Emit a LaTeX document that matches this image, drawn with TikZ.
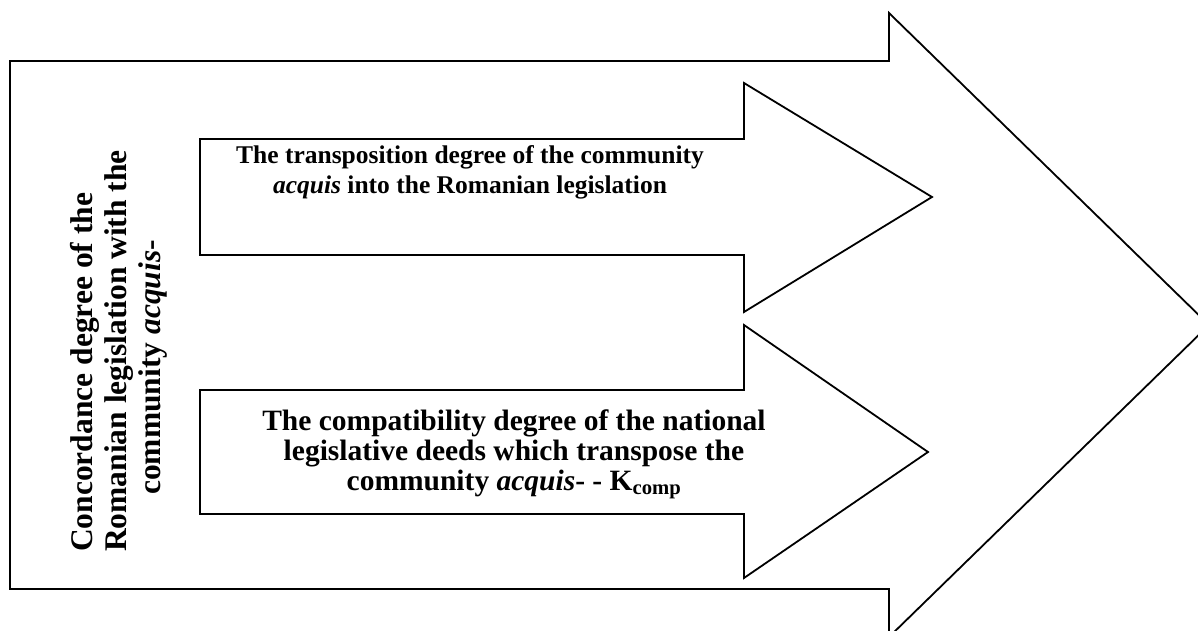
\documentclass[tikz,border=0pt]{standalone}
\usepackage{fontspec}
\setmainfont{Liberation Serif}
\begin{document}
\begin{tikzpicture}[x=1pt,y=-1pt,
  outline/.style={draw=black,line width=1.8pt,line join=miter,fill=white},
  label/.style={align=center,font=\bfseries\fontsize{25.5}{30}\selectfont,inner sep=0pt},
  labelb/.style={align=center,font=\bfseries\fontsize{29.5}{30}\selectfont,inner sep=0pt},
  sidelabel/.style={align=left,font=\bfseries\fontsize{31.5}{34}\selectfont,inner sep=0pt,rotate=90,anchor=north west}]
\useasboundingbox (0,0) rectangle (1198,631);
\clip (0,0) rectangle (1198,631);
% big arrow
\draw[outline] (10,61) -- (889,61) -- (889,13) -- (1209,325) -- (889,637) -- (889,589) -- (10,589) -- cycle;
% upper arrow
\draw[outline] (200,139) -- (744,139) -- (744,83) -- (932,197) -- (744,312) -- (744,255) -- (200,255) -- cycle;
% lower arrow
\draw[outline] (200,390) -- (744,390) -- (744,325) -- (928,452) -- (744,578) -- (744,514) -- (200,514) -- cycle;
\node[label] (trans) at (470,172) {The transposition degree of the community\\\textit{acquis} into the Romanian legislation};
\node[labelb] (comp) at (514,454) {The compatibility degree of the national\\legislative deeds which transpose the\\community \textit{acquis}- - K\textsubscript{comp}};
\node[sidelabel] (conc) at (70,552) {Concordance degree of the\\Romanian legislation with the\\\hspace*{57pt}community \textit{acquis}-};
\end{tikzpicture}
\end{document}
